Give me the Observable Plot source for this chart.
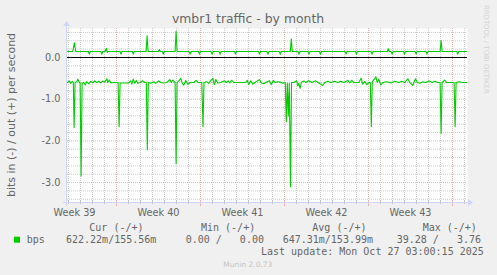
<!DOCTYPE html>
<html><head><meta charset="utf-8">
<script src="https://cdn.jsdelivr.net/npm/d3@7"></script>
<script src="https://cdn.jsdelivr.net/npm/@observablehq/plot@0.6"></script>
<style>
html,body{margin:0;padding:0;background:#f0f0f0;}
#wrap{position:relative;width:497px;height:275px;overflow:hidden;background:#f0f0f0;}
</style></head><body><div id="wrap"></div>
<script>
// time axis: hours since the left edge of the graph (33.3 days shown)
const weekLabels = ["Week 39", "Week 40", "Week 41", "Week 42", "Week 43"];
const weekLabelHours = [14, 182, 350, 518, 686];
const weekStartHours = [98, 266, 434, 602, 770];
const yTickValues = [0, -1, -2, -3];

// out (+) series: [hour, bits/s]
const outSeries = [
  [0,0.145],[10.6,0.145],[13.6,0.35],[16.6,0.145],
  [41.6,0.145],[43.6,0.08],[45.6,0.145],
  [66.6,0.145],[68.6,0.08],[70.6,0.145],
  [75.6,0.145],[77.6,0.22],[79.6,0.12],[81.6,0.145],
  [105,0.145],[107,0.08],[109,0.145],
  [129.6,0.145],[131.6,0.08],[133.6,0.145],
  [157.2,0.145],[159.2,0.52],[161.2,0.145],
  [181.6,0.145],[183.6,0.19],[185.6,0.145],
  [189.6,0.145],[191.6,0.08],[193.6,0.145],
  [215.2,0.145],[217.2,0.63],[219.2,0.145],
  [243.2,0.145],[245.2,0.08],[247.2,0.145],
  [262,0.145],[264,0.08],[266,0.145],
  [287.2,0.145],[289.2,0.08],[291.2,0.145],
  [303.2,0.145],[305.2,0.08],[307.2,0.145],
  [334,0.145],[336,0.08],[338,0.145],
  [382,0.145],[384,0.08],[386,0.145],
  [399,0.145],[401,0.08],[403,0.145],
  [423.6,0.145],[425.6,0.08],[427.6,0.145],
  [445.6,0.145],[447.6,0.44],[449.6,0.145],
  [461,0.145],[463,0.08],[465,0.145],
  [481,0.145],[483,0.08],[485,0.145],
  [503.8,0.145],[505.8,0.08],[507.8,0.145],
  [555.2,0.145],[557.2,0.08],[559.2,0.145],
  [576,0.145],[578,0.08],[580,0.145],
  [607,0.145],[609,0.08],[611,0.145],
  [639.6,0.145],[641.6,0.21],[643.6,0.145],
  [647.2,0.145],[649.2,0.08],[651.2,0.145],
  [672,0.145],[674,0.08],[676,0.145],
  [695.2,0.145],[697.2,0.08],[699.2,0.145],
  [717,0.145],[719,0.08],[721,0.145],
  [745.2,0.145],[747.2,0.41],[749.2,0.145],
  [778.6,0.145],[780.6,0.08],[782.6,0.145],
  [798.6,0.145]
];

// in (-) series: [hour, bits/s] drawn negative
const inSeries = [
  [0,-0.60],[3.6,-0.56],[6.6,-0.62],[9.6,-0.57],[11.6,-0.60],[13.2,-1.68],[15.2,-0.60],
  [18.6,-0.58],[20.6,-0.52],[23.6,-0.60],[25.2,-0.60],[27.2,-2.84],[29.2,-0.62],
  [32.6,-0.60],[35.6,-0.66],[38.6,-0.58],[42.6,-0.63],[46.6,-0.57],[50.6,-0.61],
  [54.6,-0.56],[58.6,-0.60],[62.6,-0.57],[66.6,-0.61],[70.6,-0.56],[74.6,-0.59],
  [78.6,-0.51],[80.6,-0.60],[83.6,-0.54],[86.6,-0.61],[92.6,-0.60],[101.2,-0.60],
  [103.2,-1.66],[105.2,-0.61],[122.6,-0.61],[126.6,-0.56],[128.6,-0.64],[131.6,-0.52],
  [134.6,-0.62],[137.6,-0.55],[140.6,-0.62],[144.6,-0.60],[150.6,-0.56],[154.6,-0.60],
  [157.6,-0.60],[159.6,-2.21],[161.6,-0.60],[166.6,-0.62],[172.6,-0.58],[176.6,-0.62],
  [182.6,-0.56],[186.6,-0.60],[192.6,-0.61],[198.6,-0.60],[204.6,-0.53],[207.6,-0.60],
  [210.6,-0.54],[215.2,-0.60],[217.2,-2.54],[219.2,-0.60],[222.6,-0.56],[226.6,-0.50],
  [229.6,-0.62],[232.6,-0.66],[236.6,-0.55],[240.6,-0.65],[244.6,-0.60],[252.6,-0.60],
  [257.2,-0.55],[260.6,-0.60],[268.6,-0.60],[271,-1.66],[273,-0.60],[278.6,-0.58],
  [282.6,-0.62],[286.6,-0.55],[290.6,-0.50],[293.6,-0.65],[296.6,-0.53],[300.6,-0.61],
  [306.6,-0.60],[314,-0.56],[317.6,-0.60],[321.6,-0.56],[324.6,-0.61],[328.6,-0.55],
  [332.6,-0.60],[346.6,-0.60],[356.6,-0.60],[359.6,-0.55],[362.6,-0.65],[366.6,-0.56],
  [370.6,-0.64],[374.6,-0.60],[384,-0.53],[387.6,-0.61],[392.6,-0.63],[396.6,-0.60],
  [403.6,-0.56],[407.6,-0.65],[411.6,-0.55],[415.6,-0.60],[420.6,-0.58],[425.6,-0.59],
  [430.6,-0.62],[435.6,-0.60],[437.6,-1.54],[439.6,-0.62],[441.6,-1.40],[443.6,-0.62],
  [446,-3.10],[448,-0.60],[452.6,-0.60],[458.6,-0.56],[460.6,-0.68],[462.6,-0.62],
  [465.2,-0.74],[467.6,-0.60],[472.6,-0.56],[476.6,-0.60],[482.6,-0.56],[488.6,-0.60],
  [496.6,-0.56],[500.6,-0.60],[510.6,-0.67],[514.6,-0.60],[520.6,-0.57],[526.6,-0.60],
  [534.6,-0.57],[540.6,-0.60],[546.6,-0.57],[552.6,-0.60],[560.6,-0.55],[564.6,-0.61],
  [568.6,-0.55],[572.6,-0.60],[582.6,-0.60],[587.2,-0.50],[590.6,-0.64],[594.6,-0.58],
  [598.6,-0.65],[602.6,-0.60],[605.6,-0.60],[607.6,-1.66],[609.6,-0.58],[613.6,-0.52],
  [616.6,-0.46],[619.6,-0.60],[622.6,-0.52],[626.6,-0.66],[630.6,-0.60],[638.6,-0.58],
  [646.6,-0.61],[654.6,-0.57],[662.6,-0.60],[668.6,-0.57],[674.6,-0.60],[680.6,-0.51],
  [684.6,-0.60],[690.6,-0.67],[696,-0.51],[699.6,-0.60],[704.6,-0.62],[710.6,-0.58],
  [716.6,-0.60],[724,-0.56],[728.6,-0.60],[734.6,-0.57],[740.6,-0.60],[745.2,-0.60],
  [747.2,-1.82],[749.2,-0.60],[754,-0.54],[758.6,-0.60],[766.6,-0.60],[773.2,-0.60],
  [775.2,-1.66],[777.2,-0.60],[782.6,-0.58],[790.6,-0.60],[798.6,-0.60]
];

// legend
const legendHeaders = ["Cur (-/+)", "Min (-/+)", "Avg (-/+)", "Max (-/+)"];
const legendName = "bps";
const legendValues = ["622.22m/155.56m", "0.00 /   0.00", "647.31m/153.99m", "39.28 /   3.76"];
const titleText = "vmbr1 traffic - by month";
const yLabel = "bits in (-) / out (+) per second";
const lastUpdate = "Last update: Mon Oct 27 03:00:15 2025";
const footer = "Munin 2.0.73";
const watermark = "RRDTOOL / TOBI OETIKER";

const GREEN = "#00cc00", FONT = "#666666", AXIS = "#cfd6f8";
const MGRID = "#eab4b4", GRID = "#cdcdcd";
const dayLines = d3.range(2, 800, 24);
const minorY = d3.range(-17, 4).map(k => k * 0.2).filter(v => Math.abs(v - Math.round(v)) > 1e-6);

const plot = Plot.plot({
  width: 497, height: 275,
  marginLeft: 67, marginRight: 30, marginTop: 28, marginBottom: 73,
  style: {background: "transparent", fontFamily: "DejaVu Sans", color: FONT, overflow: "visible"},
  x: {domain: [0, 800], axis: null},
  y: {domain: [-3.4773, 0.6954], axis: null},
  marks: [
    Plot.frame({fill: "white", stroke: "none"}),
    Plot.ruleX(dayLines, {stroke: GRID, strokeDasharray: "1,1"}),
    Plot.ruleY(minorY, {stroke: GRID, strokeDasharray: "1,1"}),
    Plot.ruleX(weekStartHours, {stroke: MGRID, strokeDasharray: "1,1"}),
    Plot.ruleY([-1, -2, -3], {stroke: MGRID, strokeDasharray: "1,1"}),
    Plot.ruleY([0], {stroke: "#000000", strokeWidth: 1}),
    Plot.line(inSeries, {x: d => d[0], y: d => d[1], stroke: GREEN, strokeWidth: 1.1}),
    Plot.line(outSeries, {x: d => d[0], y: d => d[1], stroke: GREEN, strokeWidth: 1.1}),
    Plot.axisY(yTickValues, {tickSize: 0, tickPadding: 7, fontSize: 9.7, tickFormat: d => d.toFixed(1), fill: FONT}),
    Plot.axisX(weekLabelHours, {tickSize: 0, tickPadding: 7, fontSize: 9.7, fill: FONT,
      tickFormat: d => weekLabels[weekLabelHours.indexOf(d)]})
  ]
});
document.getElementById("wrap").appendChild(plot);

const sx = plot.scale("x"), sy = plot.scale("y");
const svg = d3.select(plot);
const xL = sx.apply(0), xR = sx.apply(800);
const yB = sy.apply(sy.domain[0]), yT = sy.apply(sy.domain[1]);
const g = svg.append("g");
// tick marks on the x axis
dayLines.forEach(h => {
  const isMajor = weekStartHours.includes(h);
  g.append("line").attr("x1", Math.round(sx.apply(h)) + 0.5).attr("x2", Math.round(sx.apply(h)) + 0.5)
    .attr("y1", yB - 2).attr("y2", yB + (isMajor ? 4 : 2))
    .attr("stroke", isMajor ? MGRID : "#bdbdbd");
});
// axes
g.append("line").attr("x1", xL - 4).attr("x2", xR + 2).attr("y1", yB + 0.5).attr("y2", yB + 0.5).attr("stroke", AXIS);
g.append("line").attr("x1", xL - 0.5).attr("x2", xL - 0.5).attr("y1", yB + 4).attr("y2", yT - 3).attr("stroke", AXIS);
g.append("path").attr("d", `M${xR + 6},${yB + 0.5} L${xR + 1},${yB - 3} L${xR + 1},${yB + 4} Z`).attr("fill", AXIS);
g.append("path").attr("d", `M${xL - 0.5},${yT - 7} L${xL - 4},${yT - 2} L${xL + 3},${yT - 2} Z`).attr("fill", AXIS);

function txt(s, x, y, opts = {}) {
  const t = svg.append("text").attr("x", x).attr("y", y).text(s)
    .attr("fill", opts.fill || FONT)
    .attr("font-family", opts.mono ? "DejaVu Sans Mono" : "DejaVu Sans")
    .attr("font-size", opts.size || 10)
    .attr("text-anchor", opts.anchor || "start")
    .style("white-space", "pre").attr("xml:space", "preserve");
  if (opts.rotate) t.attr("transform", `rotate(${opts.rotate},${x},${y})`);
  return t;
}
txt(titleText, 248, 23.3, {size: 12.4, anchor: "middle"});
txt(yLabel, 15, 115, {size: 11, anchor: "middle", rotate: -90});
txt(watermark, 484, 5, {size: 6.9, fill: "#d2d2d2", rotate: 90});
const headerX = [89.3, 201, 312.3, 422.7];
legendHeaders.forEach((s, i) => txt(s, headerX[i], 230.7, {mono: true}));
svg.append("rect").attr("x", 14).attr("y", 236.7).attr("width", 6).attr("height", 6).attr("fill", GREEN);
txt(legendName, 26.7, 242.7, {mono: true});
const valueX = [66, 185.7, 282.7, 396.7];
legendValues.forEach((s, i) => txt(s, valueX[i], 242.7, {mono: true}));
txt(lastUpdate, 261, 255, {mono: true});
txt(footer, 223.3, 266.7, {size: 7.5, fill: "#c4c4c4"});
</script></body></html>
